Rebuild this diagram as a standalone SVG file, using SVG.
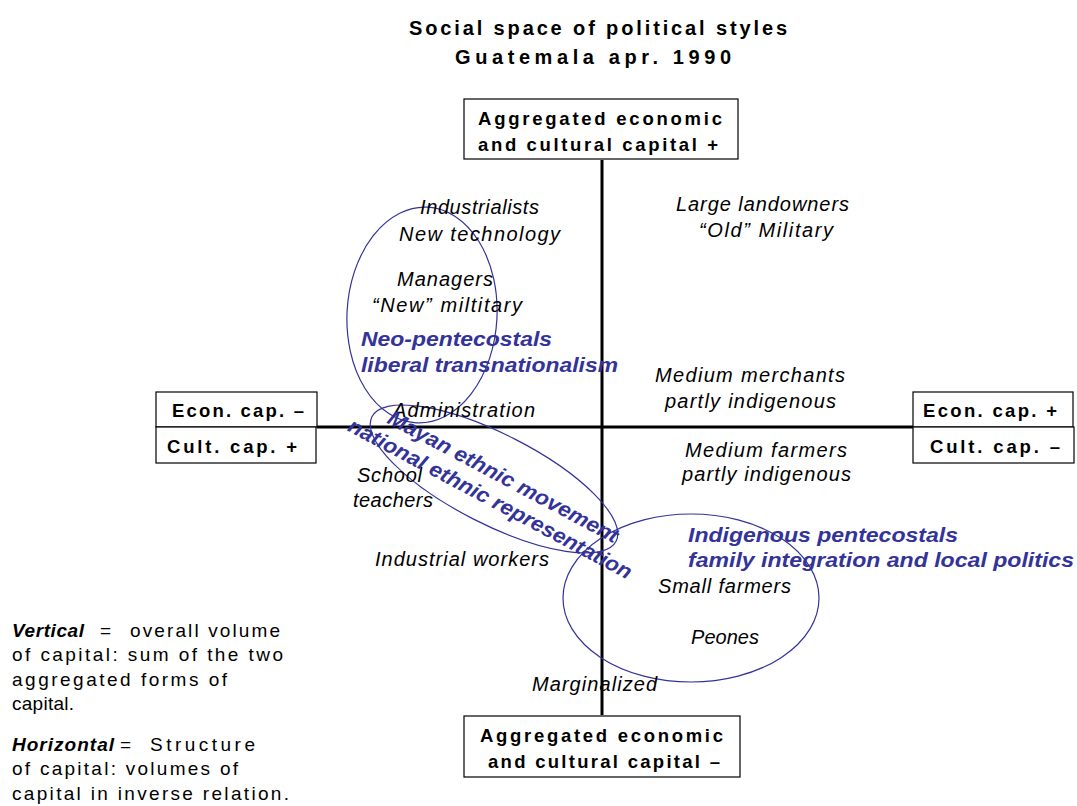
<svg xmlns="http://www.w3.org/2000/svg" width="1077" height="806" viewBox="0 0 1077 806">
<style>
.title{font-family:"Liberation Sans",Arial,sans-serif;font-weight:bold;font-size:20px;fill:#000}
.box{fill:#fff;stroke:#000;stroke-width:1.2}
.bt{font-family:"Liberation Sans",Arial,sans-serif;font-weight:bold;font-size:18.5px;fill:#000}
.lab{font-family:"Liberation Sans",Arial,sans-serif;font-style:italic;font-size:20px;fill:#000}
.blue{font-family:"Liberation Sans",Arial,sans-serif;font-style:italic;font-weight:bold;font-size:21px;fill:#333399}
.ell{fill:none;stroke:#333399;stroke-width:1.2}
.axis{stroke:#000;stroke-width:3;fill:none}
.note{font-family:"Liberation Sans",Arial,sans-serif;font-size:19px;fill:#000}
.noteb{font-family:"Liberation Sans",Arial,sans-serif;font-size:19px;font-weight:bold;font-style:italic;fill:#000}
</style>
<rect width="1077" height="806" fill="#fff"/>
<g id="title">
<text class="title" x="409" y="35" textLength="378" lengthAdjust="spacing">Social space of political styles</text>
<text class="title" x="455" y="64" textLength="276" lengthAdjust="spacing">Guatemala apr. 1990</text>
</g>
<g id="connectors">
<line class="axis" x1="602" y1="160" x2="602" y2="715"/>
<line class="axis" x1="317" y1="427" x2="913" y2="427"/>
</g>
<g id="box-top">
<rect class="box" x="464" y="99" width="274" height="60"/>
<text class="bt" x="478" y="125" textLength="244" lengthAdjust="spacing">Aggregated economic</text>
<text class="bt" x="478" y="151" textLength="240" lengthAdjust="spacing">and cultural capital  +</text>
</g>
<g id="box-bottom">
<rect class="box" x="464" y="716" width="276" height="61"/>
<text class="bt" x="480" y="742" textLength="243" lengthAdjust="spacing">Aggregated economic</text>
<text class="bt" x="488" y="768" textLength="232" lengthAdjust="spacing">and cultural capital –</text>
</g>
<g id="box-left-econ">
<rect class="box" x="156" y="392" width="161" height="35"/>
<text class="bt" x="172" y="417" textLength="132" lengthAdjust="spacing">Econ. cap. –</text>
</g>
<g id="box-left-cult">
<rect class="box" x="156" y="427" width="160" height="36"/>
<text class="bt" x="167" y="453" textLength="130" lengthAdjust="spacing">Cult. cap.  +</text>
</g>
<g id="box-right-econ">
<rect class="box" x="913" y="392" width="160" height="35"/>
<text class="bt" x="923" y="417" textLength="134" lengthAdjust="spacing">Econ. cap. +</text>
</g>
<g id="box-right-cult">
<rect class="box" x="913" y="427" width="161" height="36"/>
<text class="bt" x="930" y="453" textLength="130" lengthAdjust="spacing">Cult. cap.  –</text>
</g>
<g id="ellipse-neo">
<ellipse class="ell" cx="422" cy="315" rx="75" ry="108" transform="rotate(3 422 315)"/>
</g>
<g id="ellipse-mayan">
<ellipse class="ell" cx="494" cy="479" rx="137" ry="45" transform="rotate(27 494 479)"/>
</g>
<g id="ellipse-indigenous">
<ellipse class="ell" cx="691" cy="598" rx="128" ry="84"/>
</g>
<g id="labels">
<text class="lab" x="420" y="214" textLength="119" lengthAdjust="spacing">Industrialists</text>
<text class="lab" x="399" y="241" textLength="161" lengthAdjust="spacing">New technology</text>
<text class="lab" x="397" y="286" textLength="96" lengthAdjust="spacing">Managers</text>
<text class="lab" x="372" y="312" textLength="150" lengthAdjust="spacing">“New” miltitary</text>
<text class="lab" x="676" y="211" textLength="173" lengthAdjust="spacing">Large landowners</text>
<text class="lab" x="699" y="237" textLength="134" lengthAdjust="spacing">“Old” Military</text>
<text class="lab" x="655" y="382" textLength="190" lengthAdjust="spacing">Medium merchants</text>
<text class="lab" x="665" y="408" textLength="171" lengthAdjust="spacing">partly indigenous</text>
<text class="lab" x="393" y="417" textLength="142" lengthAdjust="spacing">Administration</text>
<text class="lab" x="685" y="457" textLength="162" lengthAdjust="spacing">Medium farmers</text>
<text class="lab" x="682" y="481" textLength="169" lengthAdjust="spacing">partly indigenous</text>
<text class="lab" x="357" y="482" textLength="65" lengthAdjust="spacing">School</text>
<text class="lab" x="353" y="507" textLength="80" lengthAdjust="spacing">teachers</text>
<text class="lab" x="375" y="566" textLength="174" lengthAdjust="spacing">Industrial workers</text>
<text class="lab" x="658" y="593" textLength="133" lengthAdjust="spacing">Small farmers</text>
<text class="lab" x="691" y="644" textLength="68" lengthAdjust="spacing">Peones</text>
<text class="lab" x="532" y="691" textLength="125" lengthAdjust="spacing">Marginalized</text>
</g>
<g id="styles">
<text class="blue" x="361" y="346" textLength="191" lengthAdjust="spacingAndGlyphs">Neo-pentecostals</text>
<text class="blue" x="361" y="372" textLength="257" lengthAdjust="spacingAndGlyphs">liberal transnationalism</text>
<text class="blue" x="688" y="542" textLength="270" lengthAdjust="spacingAndGlyphs">Indigenous pentecostals</text>
<text class="blue" x="688" y="567" textLength="386" lengthAdjust="spacingAndGlyphs">family integration and local politics</text>
<text class="blue" transform="translate(500 483) rotate(28)" text-anchor="middle" textLength="258" lengthAdjust="spacingAndGlyphs">Mayan ethnic movement</text>
<text class="blue" transform="translate(487 505) rotate(28)" text-anchor="middle" textLength="318" lengthAdjust="spacingAndGlyphs">national ethnic representation</text>
</g>
<g id="legend">
<text class="noteb" x="12" y="637" textLength="72" lengthAdjust="spacing">Vertical</text>
<text class="note" x="100" y="637">=</text>
<text class="note" x="130" y="637" textLength="150" lengthAdjust="spacing">overall volume</text>
<text class="note" x="12" y="661" textLength="271" lengthAdjust="spacing">of capital: sum of the two</text>
<text class="note" x="12" y="686" textLength="215" lengthAdjust="spacing">aggregated forms of</text>
<text class="note" x="12" y="710" textLength="62" lengthAdjust="spacing">capital.</text>
<text class="noteb" x="12" y="751" textLength="102" lengthAdjust="spacing">Horizontal</text>
<text class="note" x="120" y="751">=</text>
<text class="note" x="150" y="751" textLength="105" lengthAdjust="spacing">Structure</text>
<text class="note" x="12" y="775" textLength="226" lengthAdjust="spacing">of capital: volumes of</text>
<text class="note" x="12" y="800" textLength="277" lengthAdjust="spacing">capital in inverse relation.</text>
</g>
</svg>
